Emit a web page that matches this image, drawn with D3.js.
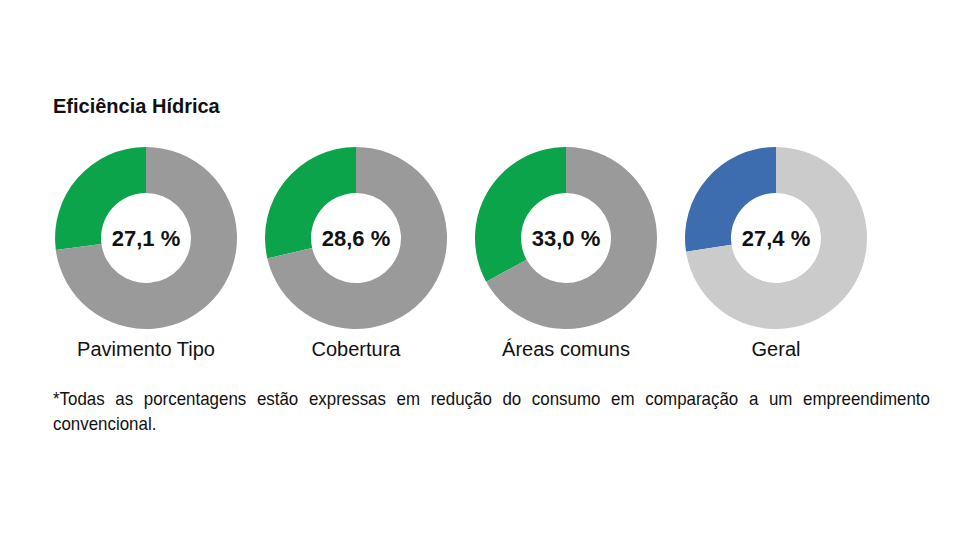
<!DOCTYPE html>
<html>
<head>
<meta charset="utf-8">
<script src="https://cdn.jsdelivr.net/npm/d3@7"></script>
<style>
  body { margin: 0; background: #fff; }
  text { font-family: "Liberation Sans", Arial, sans-serif; fill: #111; }
</style>
</head>
<body>
<svg id="chart"></svg>
<script>
const width = 960;
const height = 540;

// dados
var categories = ["Pavimento Tipo", "Cobertura", "Áreas comuns", "Geral"];
var reducao = [27.1, 28.6, 33.0, 27.4];
var rotulos = ["27,1 %", "28,6 %", "33,0 %", "27,4 %"];
var corPrincipal = ["#0ba44b", "#0ba44b", "#0ba44b", "#3d6daf"];
var corResto = ["#9a9a9a", "#9a9a9a", "#9a9a9a", "#cbcbcb"];
var titulo = "Eficiência Hídrica";
var nota = ["*Todas as porcentagens estão expressas em redução do consumo em comparação a um empreendimento",
            "convencional."];

var svg = d3.select("#chart")
  .attr("width", width)
  .attr("height", height);

var xScale = d3.scalePoint()
  .domain(categories)
  .range([146, 776]);

var cy = 238;
var arc = d3.arc().innerRadius(45).outerRadius(91);
var pie = d3.pie().sort(null).startAngle(0).endAngle(-2 * Math.PI);

svg.append("text")
  .attr("x", 53)
  .attr("y", 113)
  .attr("font-size", 20)
  .attr("font-weight", "bold")
  .text(titulo);

var donuts = svg.selectAll("g.donut")
  .data(categories)
  .enter()
  .append("g")
  .attr("class", "donut")
  .attr("transform", (d) => `translate(${xScale(d)},${cy})`);

donuts.selectAll("path")
  .data((d, i) => pie([reducao[i], 100 - reducao[i]]).map((p) => ({p: p, i: i})))
  .enter()
  .append("path")
  .attr("d", (d) => arc(d.p))
  .attr("fill", (d) => d.p.index == 0 ? corPrincipal[d.i] : corResto[d.i]);

donuts.append("text")
  .attr("text-anchor", "middle")
  .attr("y", 8)
  .attr("font-size", 22)
  .attr("font-weight", "bold")
  .text((d, i) => rotulos[i]);

donuts.append("text")
  .attr("text-anchor", "middle")
  .attr("y", 118)
  .attr("font-size", 20)
  .text((d) => d);

// nota de rodape justificada, fonte estreita simulada com scale
var left = 53, right = 930, sx = 0.94;
nota.forEach(function(linha, li) {
  var y = 405 + li * 25;
  var words = li < nota.length - 1 ? linha.split(" ") : [linha];
  var ts = svg.append("g").selectAll("text")
    .data(words)
    .enter()
    .append("text")
    .attr("font-size", 18)
    .text((d) => d);
  var widths = [];
  ts.each(function() { widths.push(this.getComputedTextLength() * sx); });
  var gap = words.length > 1 ? (right - left - d3.sum(widths)) / (words.length - 1) : 0;
  var x = left;
  ts.attr("transform", function(d, i) {
    var cur = x;
    x += widths[i] + gap;
    return `translate(${cur},${y}) scale(${sx},1)`;
  });
});
</script>
</body>
</html>
